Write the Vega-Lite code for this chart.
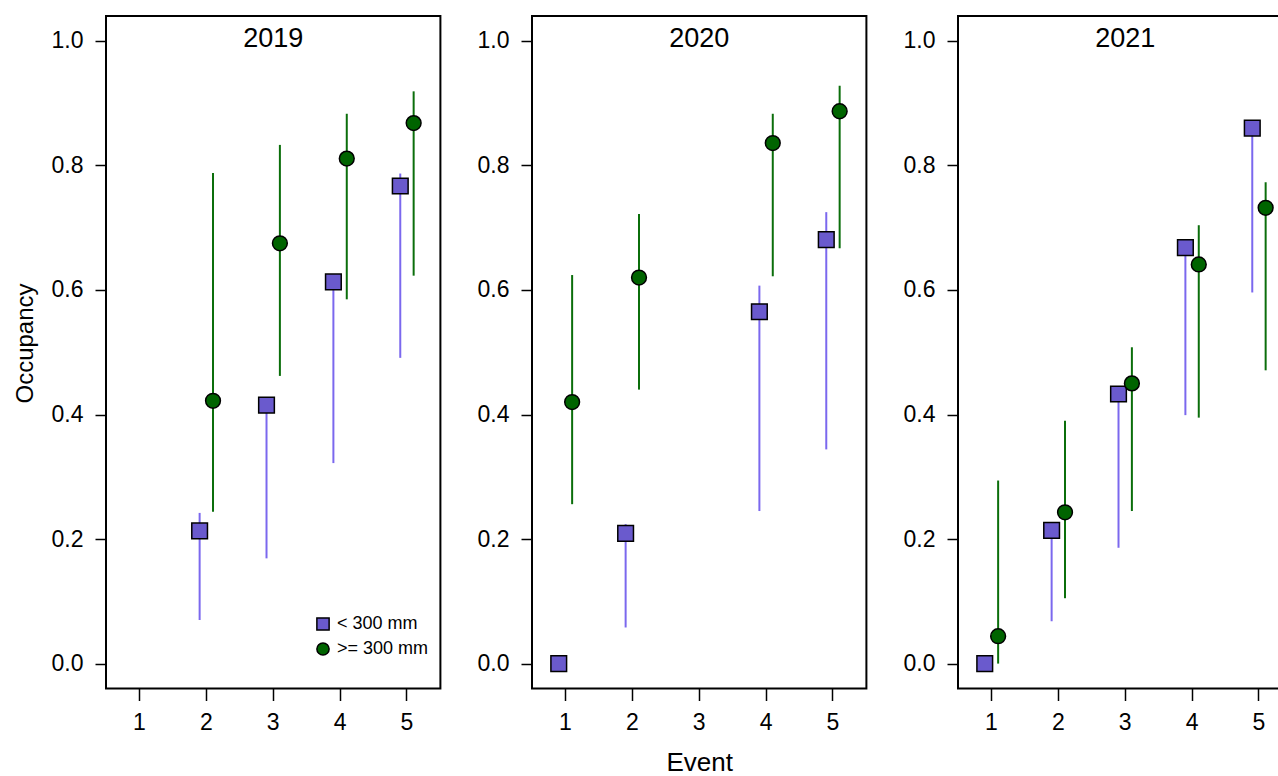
{
  "$schema": "https://vega.github.io/schema/vega-lite/v6.json",
  "padding": {"left": 12, "top": 15, "right": 0, "bottom": 0},
  "background": "white",
  "datasets": {
    "occ": [
      {"year": 2019, "event": 2, "size": "< 300 mm", "occ": 0.213, "lo": 0.070, "hi": 0.242},
      {"year": 2019, "event": 3, "size": "< 300 mm", "occ": 0.415, "lo": 0.169, "hi": 0.425},
      {"year": 2019, "event": 4, "size": "< 300 mm", "occ": 0.613, "lo": 0.322, "hi": 0.620},
      {"year": 2019, "event": 5, "size": "< 300 mm", "occ": 0.767, "lo": 0.491, "hi": 0.787},
      {"year": 2019, "event": 2, "size": ">= 300 mm", "occ": 0.422, "lo": 0.244, "hi": 0.788},
      {"year": 2019, "event": 3, "size": ">= 300 mm", "occ": 0.675, "lo": 0.462, "hi": 0.833},
      {"year": 2019, "event": 4, "size": ">= 300 mm", "occ": 0.811, "lo": 0.585, "hi": 0.883},
      {"year": 2019, "event": 5, "size": ">= 300 mm", "occ": 0.868, "lo": 0.623, "hi": 0.919},
      {"year": 2020, "event": 1, "size": "< 300 mm", "occ": 0.000, "lo": 0.000, "hi": 0.000},
      {"year": 2020, "event": 2, "size": "< 300 mm", "occ": 0.209, "lo": 0.058, "hi": 0.224},
      {"year": 2020, "event": 4, "size": "< 300 mm", "occ": 0.565, "lo": 0.245, "hi": 0.607},
      {"year": 2020, "event": 5, "size": "< 300 mm", "occ": 0.681, "lo": 0.344, "hi": 0.725},
      {"year": 2020, "event": 1, "size": ">= 300 mm", "occ": 0.420, "lo": 0.256, "hi": 0.624},
      {"year": 2020, "event": 2, "size": ">= 300 mm", "occ": 0.620, "lo": 0.440, "hi": 0.722},
      {"year": 2020, "event": 4, "size": ">= 300 mm", "occ": 0.836, "lo": 0.622, "hi": 0.883},
      {"year": 2020, "event": 5, "size": ">= 300 mm", "occ": 0.887, "lo": 0.667, "hi": 0.928},
      {"year": 2021, "event": 1, "size": "< 300 mm", "occ": 0.000, "lo": 0.000, "hi": 0.000},
      {"year": 2021, "event": 2, "size": "< 300 mm", "occ": 0.214, "lo": 0.068, "hi": 0.220},
      {"year": 2021, "event": 3, "size": "< 300 mm", "occ": 0.433, "lo": 0.186, "hi": 0.440},
      {"year": 2021, "event": 4, "size": "< 300 mm", "occ": 0.668, "lo": 0.399, "hi": 0.675},
      {"year": 2021, "event": 5, "size": "< 300 mm", "occ": 0.860, "lo": 0.596, "hi": 0.865},
      {"year": 2021, "event": 1, "size": ">= 300 mm", "occ": 0.044, "lo": 0.000, "hi": 0.294},
      {"year": 2021, "event": 2, "size": ">= 300 mm", "occ": 0.243, "lo": 0.105, "hi": 0.390},
      {"year": 2021, "event": 3, "size": ">= 300 mm", "occ": 0.450, "lo": 0.245, "hi": 0.508},
      {"year": 2021, "event": 4, "size": ">= 300 mm", "occ": 0.641, "lo": 0.395, "hi": 0.704},
      {"year": 2021, "event": 5, "size": ">= 300 mm", "occ": 0.732, "lo": 0.471, "hi": 0.773}
    ]
  },
  "config": {
    "font": "Liberation Sans",
    "view": {"stroke": "black", "strokeWidth": 2},
    "axis": {
      "grid": false, "domain": false, "tickColor": "black", "tickWidth": 1.5,
      "labelColor": "black", "titleColor": "black", "labelFont": "Liberation Sans",
      "titleFont": "Liberation Sans", "titleFontWeight": "normal", "labelFontSize": 23
    },
    "title": {"font": "Liberation Sans", "fontSize": 27, "fontWeight": "normal", "color": "black", "frame": "group", "offset": -37, "baseline": "alphabetic", "anchor": "middle"}
  },
  "spacing": 34,
  "resolve": {"legend": {"fill": "independent", "shape": "independent"}},
  "hconcat": [
    {
      "width": 334.4, "height": 672.5,
      "title": {"text": "2019"},
      "data": {"name": "occ"},
      "transform": [{"filter": "datum.year == 2019"}],
      "encoding": {
        "x": {"field": "event", "type": "ordinal", "scale": {"domain": [1, 2, 3, 4, 5], "paddingInner": 0, "paddingOuter": 0}, "axis": {"labelAngle": 0, "tickSize": 12, "labelPadding": 11, "title": null}},
        "xOffset": {"field": "size", "type": "nominal", "scale": {"type": "point", "domain": ["< 300 mm", ">= 300 mm"], "range": [26.75, 40.13], "padding": 0}}
      },
      "layer": [
        {
          "mark": {"type": "rule", "strokeWidth": 2},
          "encoding": {
            "y": {"field": "lo", "type": "quantitative", "scale": {"domain": [-0.04, 1.04], "nice": false, "zero": false}, "axis": {"values": [0, 0.2, 0.4, 0.6, 0.8, 1.0], "format": ".1f", "tickSize": 11, "labelPadding": 12, "title": "Occupancy", "titleFontSize": 24, "titlePadding": 14, "titleY": 327}},
            "y2": {"field": "hi"},
            "stroke": {"field": "size", "type": "nominal", "scale": {"domain": ["< 300 mm", ">= 300 mm"], "range": ["#7B68EE", "#0b6e0b"]}, "legend": null}
          }
        },
        {
          "mark": {"type": "point", "filled": true, "stroke": "black", "strokeWidth": 1.5, "opacity": 1},
          "encoding": {
            "y": {"field": "occ", "type": "quantitative"},
            "fill": {"field": "size", "type": "nominal", "scale": {"domain": ["< 300 mm", ">= 300 mm"], "range": ["#6A5ACD", "#006400"]},
              "legend": {"orient": "none", "legendX": 208, "legendY": 599, "title": null, "labelFontSize": 18, "labelColor": "black", "symbolSize": 150, "symbolStrokeColor": "black", "symbolStrokeWidth": 1.5, "symbolOpacity": 1, "labelOffset": 5, "rowPadding": 5, "padding": 0,
                "encode": {"symbols": {"update": {"stroke": {"value": "black"}, "strokeWidth": {"value": 1.5}, "opacity": {"value": 1}}}}}},
            "shape": {"field": "size", "type": "nominal", "scale": {"domain": ["< 300 mm", ">= 300 mm"], "range": ["square", "circle"]},
              "legend": {"orient": "none", "legendX": 208, "legendY": 599, "title": null, "labelFontSize": 18, "labelColor": "black", "symbolSize": 150, "symbolStrokeColor": "black", "symbolStrokeWidth": 1.5, "symbolOpacity": 1, "labelOffset": 5, "rowPadding": 5, "padding": 0,
                "encode": {"symbols": {"update": {"stroke": {"value": "black"}, "strokeWidth": {"value": 1.5}, "opacity": {"value": 1}}}}}},
            "size": {"field": "size", "type": "nominal", "scale": {"domain": ["< 300 mm", ">= 300 mm"], "range": [246, 219]}, "legend": null}
          }
        }
      ]
    },
    {
      "width": 334.4, "height": 672.5,
      "title": {"text": "2020"},
      "data": {"name": "occ"},
      "transform": [{"filter": "datum.year == 2020"}],
      "encoding": {
        "x": {"field": "event", "type": "ordinal", "scale": {"domain": [1, 2, 3, 4, 5], "paddingInner": 0, "paddingOuter": 0}, "axis": {"labelAngle": 0, "tickSize": 12, "labelPadding": 11, "title": "Event", "titleFontSize": 26, "titlePadding": 15}},
        "xOffset": {"field": "size", "type": "nominal", "scale": {"type": "point", "domain": ["< 300 mm", ">= 300 mm"], "range": [26.75, 40.13], "padding": 0}}
      },
      "layer": [
        {
          "mark": {"type": "rule", "strokeWidth": 2},
          "encoding": {
            "y": {"field": "lo", "type": "quantitative", "scale": {"domain": [-0.04, 1.04], "nice": false, "zero": false}, "axis": {"values": [0, 0.2, 0.4, 0.6, 0.8, 1.0], "format": ".1f", "tickSize": 11, "labelPadding": 12, "title": null}},
            "y2": {"field": "hi"},
            "stroke": {"field": "size", "type": "nominal", "scale": {"domain": ["< 300 mm", ">= 300 mm"], "range": ["#7B68EE", "#0b6e0b"]}, "legend": null}
          }
        },
        {
          "mark": {"type": "point", "filled": true, "stroke": "black", "strokeWidth": 1.5, "opacity": 1},
          "encoding": {
            "y": {"field": "occ", "type": "quantitative"},
            "fill": {"field": "size", "type": "nominal", "scale": {"domain": ["< 300 mm", ">= 300 mm"], "range": ["#6A5ACD", "#006400"]}, "legend": null},
            "shape": {"field": "size", "type": "nominal", "scale": {"domain": ["< 300 mm", ">= 300 mm"], "range": ["square", "circle"]}, "legend": null},
            "size": {"field": "size", "type": "nominal", "scale": {"domain": ["< 300 mm", ">= 300 mm"], "range": [246, 219]}, "legend": null}
          }
        }
      ]
    },
    {
      "width": 334.4, "height": 672.5,
      "title": {"text": "2021"},
      "data": {"name": "occ"},
      "transform": [{"filter": "datum.year == 2021"}],
      "encoding": {
        "x": {"field": "event", "type": "ordinal", "scale": {"domain": [1, 2, 3, 4, 5], "paddingInner": 0, "paddingOuter": 0}, "axis": {"labelAngle": 0, "tickSize": 12, "labelPadding": 11, "title": null}},
        "xOffset": {"field": "size", "type": "nominal", "scale": {"type": "point", "domain": ["< 300 mm", ">= 300 mm"], "range": [26.75, 40.13], "padding": 0}}
      },
      "layer": [
        {
          "mark": {"type": "rule", "strokeWidth": 2},
          "encoding": {
            "y": {"field": "lo", "type": "quantitative", "scale": {"domain": [-0.04, 1.04], "nice": false, "zero": false}, "axis": {"values": [0, 0.2, 0.4, 0.6, 0.8, 1.0], "format": ".1f", "tickSize": 11, "labelPadding": 12, "title": null}},
            "y2": {"field": "hi"},
            "stroke": {"field": "size", "type": "nominal", "scale": {"domain": ["< 300 mm", ">= 300 mm"], "range": ["#7B68EE", "#0b6e0b"]}, "legend": null}
          }
        },
        {
          "mark": {"type": "point", "filled": true, "stroke": "black", "strokeWidth": 1.5, "opacity": 1},
          "encoding": {
            "y": {"field": "occ", "type": "quantitative"},
            "fill": {"field": "size", "type": "nominal", "scale": {"domain": ["< 300 mm", ">= 300 mm"], "range": ["#6A5ACD", "#006400"]}, "legend": null},
            "shape": {"field": "size", "type": "nominal", "scale": {"domain": ["< 300 mm", ">= 300 mm"], "range": ["square", "circle"]}, "legend": null},
            "size": {"field": "size", "type": "nominal", "scale": {"domain": ["< 300 mm", ">= 300 mm"], "range": [246, 219]}, "legend": null}
          }
        }
      ]
    }
  ]
}
